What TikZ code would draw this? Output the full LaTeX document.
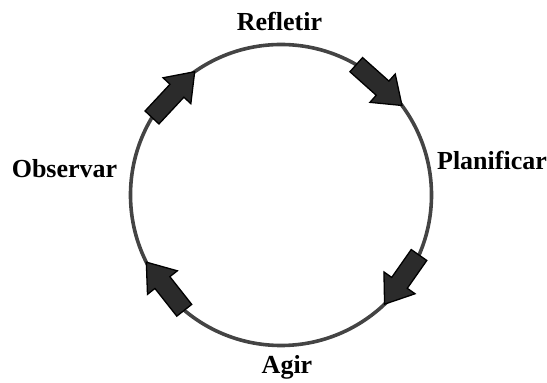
\documentclass[tikz,border=0pt]{standalone}
\usepackage{fontspec}
\setmainfont{Liberation Serif}
\usetikzlibrary{calc}
\definecolor{ringgray}{HTML}{444444}
\definecolor{arrowfill}{HTML}{2B2B2B}
\tikzset{
  ring/.style={draw=ringgray, line width=3.6pt},
  blockarrow/.style={draw=black, fill=arrowfill, line width=1.3pt, line join=miter},
  lbl/.style={font=\fontsize{26}{30}\selectfont\bfseries, anchor=base, inner sep=0pt}
}
\newcommand{\myblockarrow}[2]{%
  \coordinate (bb) at ($(#2)!26pt!(#1)$);
  \draw[blockarrow] ($(#1)!9.5pt!90:(#2)$) -- ($(bb)!9.5pt!90:(#2)$) -- ($(bb)!19pt!90:(#2)$) -- (#2)
    -- ($(bb)!19pt!-90:(#2)$) -- ($(bb)!9.5pt!-90:(#2)$) -- ($(#1)!9.5pt!-90:(#2)$) -- cycle;}
\begin{document}
\begin{tikzpicture}[x=1pt,y=1pt]
\useasboundingbox (0,0) rectangle (547,383);
\coordinate (C) at (281,188);
\draw[ring] (C) circle (150.5);
% arrow end points on the ring (tail, tip)
\coordinate (t1) at ($(C)+(149:150.5)$);  \coordinate (h1) at ($(C)+(125:150.5)$);
\coordinate (t2) at ($(C)+(60:150.5)$);   \coordinate (h2) at ($(C)+(36.5:150.5)$);
\coordinate (t3) at ($(C)+(-23.5:150.5)$); \coordinate (h3) at ($(C)+(-46.5:150.5)$);
\coordinate (t4) at ($(C)+(-130:150.5)$); \coordinate (h4) at ($(C)+(-153.5:150.5)$);
\myblockarrow{t1}{h1}
\myblockarrow{t2}{h2}
\myblockarrow{t3}{h3}
\myblockarrow{t4}{h4}
\node[lbl] (refletir) at (279.5,352) {Refletir};
\node[lbl] (planificar) at (492,213) {Planificar};
\node[lbl] (agir) at (287,9) {Agir};
\node[lbl] (observar) at (64.5,205) {Observar};
\end{tikzpicture}
\end{document}
